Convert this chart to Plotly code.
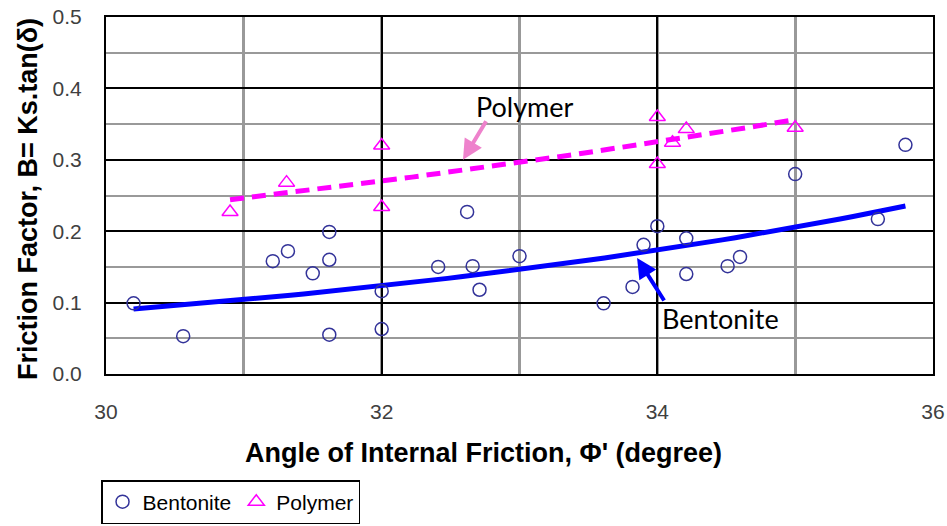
import numpy as np
import plotly.graph_objects as go

# Friction factor B = Ks.tan(delta) against angle of internal friction
bentonite_phi = [30.2, 30.56, 31.21, 31.32, 31.5, 31.62, 31.62, 31.62, 32.0, 32.0,
                 32.41, 32.62, 32.66, 32.71, 33.0, 33.61, 33.82, 33.9, 34.0, 34.21,
                 34.21, 34.51, 34.6, 35.0, 35.6, 35.8]
bentonite_B = [0.099, 0.053, 0.158, 0.172, 0.141, 0.199, 0.160, 0.055, 0.116, 0.063,
               0.150, 0.227, 0.151, 0.118, 0.165, 0.099, 0.122, 0.181, 0.207, 0.190,
               0.140, 0.151, 0.164, 0.280, 0.217, 0.321]

polymer_phi = [30.9, 31.31, 32.0, 32.0, 34.0, 34.0, 34.11, 34.21, 35.0]
polymer_B = [0.227, 0.268, 0.320, 0.234, 0.360, 0.294, 0.324, 0.343, 0.345]

x_tick_vals = [30, 32, 34, 36]
y_tick_vals = [0.0, 0.1, 0.2, 0.3, 0.4, 0.5]


def exp_trend(xs, ys, n=60):
    """Exponential least-squares trendline (fit of ln y on x) over the data range."""
    xs = np.asarray(xs, float)
    ys = np.asarray(ys, float)
    b, ln_a = np.polyfit(xs, np.log(ys), 1)
    xt = np.linspace(xs.min(), xs.max(), n)
    return xt, np.exp(ln_a + b * xt)


bx, by = exp_trend(bentonite_phi, bentonite_B)
px, py = exp_trend(polymer_phi, polymer_B)

FONT = "Liberation Sans, Arial, sans-serif"
LABEL_FONT = "Lato, Carlito, Calibri, sans-serif"

fig = go.Figure()

fig.add_trace(go.Scatter(
    x=bx, y=by, mode="lines", showlegend=False, hoverinfo="skip",
    line=dict(color="#0000ff", width=5),
))
fig.add_trace(go.Scatter(
    x=px, y=py, mode="lines", showlegend=False, hoverinfo="skip",
    line=dict(color="#ff00ff", width=5, dash="14px,8px"),
))
fig.add_trace(go.Scatter(
    x=bentonite_phi, y=bentonite_B, mode="markers", name="Bentonite",
    marker=dict(symbol="circle-open", size=13, color="#333399",
                line=dict(width=1.5, color="#333399")),
))
fig.add_trace(go.Scatter(
    x=polymer_phi, y=polymer_B, mode="markers", name="Polymer",
    marker=dict(symbol="triangle-up-open", size=14, color="#ff00ff",
                line=dict(width=1.5, color="#ff00ff")),
))

fig.update_xaxes(
    range=[30, 36], tickvals=x_tick_vals, ticktext=[str(v) for v in x_tick_vals],
    showgrid=True, gridcolor="#000000", gridwidth=1.5,
    minor=dict(dtick=1, tick0=30, showgrid=True, gridcolor="#999999", gridwidth=2.5),
    showline=True, linecolor="#000000", linewidth=2, mirror=True,
    ticks="", ticklabelstandoff=18, zeroline=False, automargin=False,
    tickfont=dict(family=FONT, size=21, color="#404040"),
)
fig.update_yaxes(
    range=[0, 0.5], tickvals=y_tick_vals, ticktext=[f"{v:.1f}" for v in y_tick_vals],
    showgrid=True, gridcolor="#000000", gridwidth=2,
    minor=dict(dtick=0.1, tick0=0.05, showgrid=True, gridcolor="#999999", gridwidth=2),
    showline=True, linecolor="#000000", linewidth=2, mirror=True,
    ticks="", ticklabelstandoff=18, zeroline=False, automargin=False,
    tickfont=dict(family=FONT, size=21, color="#404040"),
)

annotations = [
    # axis titles
    dict(text="Angle of Internal Friction, Φ' (degree)", xref="paper", yref="paper",
         x=0.456, y=-0.2213, xanchor="center", yanchor="middle", showarrow=False,
         font=dict(family=FONT, size=27, color="#000000", weight="bold")),
    dict(text="Friction Factor, B= Ks.tan(δ)", xref="paper", yref="paper",
         x=-0.0943, y=0.49, xanchor="center", yanchor="middle", showarrow=False,
         textangle=-90,
         font=dict(family=FONT, size=27, color="#000000", weight="bold")),
    # callouts
    dict(text="", x=32.59, y=0.300, xref="x", yref="y", showarrow=True,
         ax=24, ay=-40, arrowhead=2, arrowsize=1, arrowwidth=4, arrowcolor="#ee82cc"),
    dict(text="Polymer", x=33.04, y=0.375, xref="x", yref="y", showarrow=False,
         xanchor="center", yanchor="middle",
         font=dict(family=LABEL_FONT, size=27, color="#000000")),
    dict(text="", x=33.853, y=0.1625, xref="x", yref="y", showarrow=True,
         ax=28, ay=44, arrowhead=2, arrowsize=1, arrowwidth=4, arrowcolor="#0000ff"),
    dict(text="Bentonite", x=34.456, y=0.078, xref="x", yref="y", showarrow=False,
         xanchor="center", yanchor="middle",
         font=dict(family=LABEL_FONT, size=27, color="#000000")),
]

fig.update_layout(
    width=947, height=526,
    margin=dict(l=106, r=14, t=17, b=152, autoexpand=False),
    paper_bgcolor="#ffffff", plot_bgcolor="#ffffff",
    annotations=annotations,
    legend=dict(
        orientation="h", x=-0.006, xanchor="left", y=-0.297, yanchor="top",
        bordercolor="#000000", borderwidth=1.5, bgcolor="#ffffff",
        font=dict(family=FONT, size=21, color="#000000"),
        itemwidth=30, entrywidth=0,
    ),
)

fig.write_html("out.html")
